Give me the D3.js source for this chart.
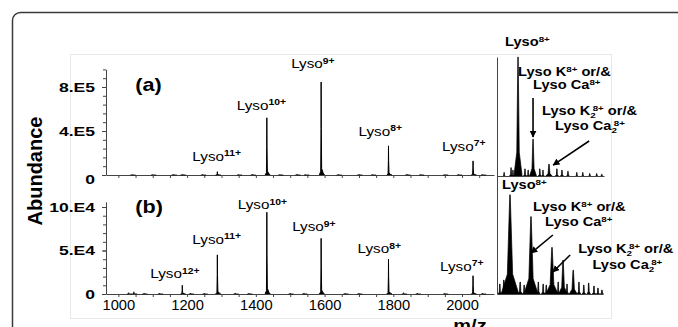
<!DOCTYPE html>
<html>
<head>
<meta charset="utf-8">
<script src="https://cdn.jsdelivr.net/npm/d3@7"></script>
<style>
  body { margin: 0; background: #fff; }
  svg { display: block; }
  text { font-family: "Liberation Sans", Arial, sans-serif; fill: #000; }
</style>
</head>
<body>
<div id="chart"></div>
<script>
// Set Dimensions
const W = 678;
const H = 327;

// Lysozyme charge states and the m/z of each peak
const charges = ["12+", "11+", "10+", "9+", "8+", "7+"];
const peakMz = [1186, 1288, 1432, 1590, 1786, 2032];
// peak heights, panel (a) and panel (b)
const peakA = [0.05e5, 0.3e5, 5.2e5, 8.45e5, 2.65e5, 1.28e5];
const peakB = [1.0e4, 4.5e4, 9.4e4, 6.4e4, 4.0e4, 2.1e4];

// small background peaks along the baseline
const noiseMzA = [1040, 1100, 1160, 1245, 1350, 1390, 1470, 1520, 1545, 1640, 1700, 1740, 1840, 1880, 1950, 1990, 2060];
const noiseA = [0.06e5, 0.05e5, 0.07e5, 0.06e5, 0.05e5, 0.08e5, 0.06e5, 0.09e5, 0.05e5, 0.06e5, 0.07e5, 0.05e5, 0.08e5, 0.06e5, 0.05e5, 0.06e5, 0.05e5];
const noiseMzB = [1030, 1045, 1075, 1120, 1210, 1250, 1340, 1380, 1500, 1540, 1660, 1700, 1830, 1870, 1950, 2060];
const noiseB = [0.15e4, 0.25e4, 0.12e4, 0.1e4, 0.12e4, 0.1e4, 0.12e4, 0.1e4, 0.1e4, 0.12e4, 0.1e4, 0.1e4, 0.15e4, 0.1e4, 0.1e4, 0.1e4];

// axis ticks
const xTicks = [1000, 1200, 1400, 1600, 1800, 2000];
const yTicksA = [0, 4e5, 8e5];
const yTickLabelsA = ["0", "4.E5", "8.E5"];
const yTicksB = [0, 5e4, 10e4];
const yTickLabelsB = ["0", "5.E4", "10.E4"];

// zoom on the 8+ ion (relative height %, half base width in m/z)
const insetMzA = [1784.6, 1786.8, 1787.4, 1789.0, 1791.2, 1792.2, 1793.75, 1795.9, 1796.9, 1798.8, 1801.3, 1802.9, 1804.8, 1807.6, 1809.5, 1811.7, 1813.9, 1815.5];
const insetHA  = [3, 7, 5, 100, 6, 5, 31, 6, 5, 10, 6, 5, 4, 3, 3, 2, 2, 1.5];
const insetWA  = [0.4, 0.5, 0.4, 1.3, 0.5, 0.4, 1.1, 0.5, 0.4, 1.0, 0.5, 0.5, 0.5, 0.4, 0.4, 0.4, 0.4, 0.4];

const insetMzB = [1786.7, 1787.6, 1789.0, 1791.3, 1792.2, 1793.75, 1795.4, 1796.5, 1797.2, 1798.5, 1799.9, 1801.0, 1801.9, 1803.3, 1804.6, 1805.7, 1806.8, 1808.0, 1808.9, 1809.8];
const insetHB  = [10, 14, 100, 12, 9, 78, 12, 10, 9, 47, 12, 34, 10, 24, 12, 9, 11, 8, 6, 4];
const insetWB  = [0.4, 0.5, 2.0, 0.5, 0.4, 1.6, 0.4, 0.4, 0.4, 1.4, 0.4, 1.0, 0.4, 0.9, 0.4, 0.4, 0.4, 0.4, 0.4, 0.4];

// arrows in the insets: [tail m/z, tail %, tip m/z, tip %]
const arrowsA = [[1793.75, 65.5, 1793.75, 32.8], [1811.5, 29.4, 1800.1, 9.2]];
const arrowsB = [[1798.7, 59.5, 1793.75, 41.3], [1802.6, 39.3, 1798.7, 22.2]];

const svg = d3.select("#chart")
  .append("svg")
  .attr("width", W)
  .attr("height", H);

svg.append("defs").append("marker")
  .attr("id", "head")
  .attr("viewBox", "0 0 10 10")
  .attr("refX", 9).attr("refY", 5)
  .attr("markerWidth", 7).attr("markerHeight", 7)
  .attr("markerUnits", "userSpaceOnUse")
  .attr("orient", "auto")
  .append("path").attr("d", "M0,0L10,5L0,10z").attr("fill", "#000");

// frame round the figure
svg.append("rect")
  .attr("x", 12.5).attr("y", 12.5)
  .attr("width", 720).attr("height", 400)
  .attr("rx", 8)
  .attr("fill", "none")
  .attr("stroke", "#3a3a3a")
  .attr("stroke-width", 1.5);

svg.append("rect")
  .attr("x", 70.5).attr("y", 54.5)
  .attr("width", 541).attr("height", 264)
  .attr("fill", "none")
  .attr("stroke", "#e8e8e8");

// scales
const x = d3.scaleLinear().domain([964, 2093]).range([106, 494]);
const yA = d3.scaleLinear().domain([0, 9.6e5]).range([175, 69.4]);
const yB = d3.scaleLinear().domain([0, 10.6e4]).range([294, 201.8]);

const xIa = d3.scaleLinear().domain([1782.35, 1816.2]).range([497, 604]);
const yIa = d3.scaleLinear().domain([0, 100]).range([176, 57]);
const xIb = d3.scaleLinear().domain([1786.06, 1810.04]).range([497, 603]);
const yIb = d3.scaleLinear().domain([0, 119]).range([294, 176]);

const SX = 1.22; // labels in the source are drawn wide

function label(parent, px, py, parts, o) {
  const t = parent.append("text")
    .attr("transform", `translate(${px},${py}) scale(${o.sx || SX},1)`)
    .attr("font-size", o.size)
    .attr("font-weight", o.weight || "normal")
    .attr("text-anchor", o.anchor || "start");
  parts.forEach(p => {
    t.append("tspan")
      .attr("dx", p.dx || 0)
      .attr("dy", p.dy || 0)
      .attr("font-size", p.s || null)
      .attr("font-weight", p.w || null)
      .text(p.t);
  });
  return t;
}

// one peak as a thin spike with a small tail
function peakShape(m, h) {
  return [[m - 5, 0], [m - 1.2, h * 0.04], [m - 0.3, h * 0.5], [m, h],
          [m + 0.4, h * 0.5], [m + 1.5, h * 0.07], [m + 6, h * 0.02], [m + 10, 0]];
}
function insetShape(m, h, w) {
  return [[m - w, 0], [m - w * 0.3, h * 0.2], [m - 0.05, h], [m + 0.05, h],
          [m + w * 0.3, h * 0.2], [m + w, 0]];
}

function styleAxis(g) {
  g.selectAll("path, line").attr("stroke", "#444");
}

function panel(yScale, base, heights, noiseMz, noise, yTicks, yLabels, minorStep, top) {
  const g = svg.append("g");

  // minor y ticks
  g.append("g")
    .attr("transform", "translate(106,0)")
    .call(d3.axisLeft(yScale).tickValues(d3.range(0, top, minorStep)).tickSize(3).tickSizeOuter(0).tickFormat(""))
    .call(styleAxis);

  // labelled y ticks
  const ya = g.append("g")
    .attr("transform", "translate(106,0)")
    .call(d3.axisLeft(yScale).tickValues(yTicks).tickSize(4).tickFormat((d, i) => yLabels[i]))
    .call(styleAxis);
  ya.select(".domain").remove();
  ya.selectAll("text")
    .attr("x", -11 / 1.35)
    .attr("transform", "scale(1.35,1)")
    .attr("font-size", 13)
    .attr("font-weight", "bold")
    .style("font-family", "'Liberation Sans', Arial, sans-serif");

  // x axis ticks
  g.append("g")
    .attr("transform", `translate(0,${base})`)
    .call(d3.axisBottom(x).tickValues(d3.range(1000, 2051, 50)).tickSize(3).tickSizeOuter(0).tickFormat(""))
    .call(styleAxis);

  const line = d3.line().x(d => x(d[0])).y(d => yScale(d[1]));

  const noisePeaks = noiseMz.map((m, i) => [m, noise[i]]);
  g.selectAll(".noise")
    .data(noisePeaks)
    .enter().append("path")
    .attr("d", d => line(peakShape(d[0], d[1])))
    .attr("fill", "#000").attr("stroke", "#000").attr("stroke-width", 0.8);

  const peaks = peakMz.map((m, i) => [m, heights[i]]);
  g.selectAll(".peak")
    .data(peaks)
    .enter().append("path")
    .attr("d", d => line(peakShape(d[0], d[1])))
    .attr("fill", "#000").attr("stroke", "#000").attr("stroke-width", 1);

  return g;
}

const gA = panel(yA, 175, peakA, noiseMzA, noiseA, yTicksA, yTickLabelsA, 0.8e5, 9.61e5);
const gB = panel(yB, 294, peakB, noiseMzB, noiseB, yTicksB, yTickLabelsB, 1e4, 10.61e4);

// the "0" of the top panel sits a little low
gA.selectAll(".tick text").filter(d => d === 0).attr("y", 4);

// x tick labels under (b)
const xl = gB.append("g")
  .attr("transform", "translate(0,294)")
  .call(d3.axisBottom(x).tickValues(xTicks).tickSize(0).tickPadding(6).tickFormat(d3.format("d")));
xl.select(".domain").remove();
xl.selectAll("text")
  .attr("font-size", 14)
  .attr("transform", "scale(1.05,1)")
  .style("font-family", "'Liberation Sans', Arial, sans-serif");

// peak labels: offsets from each peak top (pixels)
const labelOffA = [null, [-25, -11], [-30, -8], [-30, -14], [-30, -10], [-31, -10]];
const labelOffB = [[-32, -7], [-25, -11], [-29, -3], [-29, -7], [-31, -6], [-33, -5]];

charges.forEach((c, i) => {
  if (labelOffA[i]) {
    label(gA, x(peakMz[i]) + labelOffA[i][0], yA(peakA[i]) + labelOffA[i][1],
      [{ t: "Lyso" }, { t: c, s: 8.5, dy: -4.5, w: "bold" }], { size: 12.5 });
  }
  label(gB, x(peakMz[i]) + labelOffB[i][0], yB(peakB[i]) + labelOffB[i][1],
    [{ t: "Lyso" }, { t: c, s: 8.5, dy: -4.5, w: "bold" }], { size: 12.5 });
});

// panel letters
label(svg, x(1000) + 17, yA(8e5) + 4, [{ t: "(a)" }], { size: 18, weight: "bold", sx: 1.2 });
label(svg, x(1000) + 17, yB(10e4) + 6, [{ t: "(b)" }], { size: 18, weight: "bold", sx: 1.2 });

// axis titles
svg.append("text")
  .attr("transform", "translate(42,171) rotate(-90)")
  .attr("text-anchor", "middle")
  .attr("font-size", 20)
  .attr("font-weight", "bold")
  .text("Abundance");

label(svg, 470, 331, [{ t: "m/z" }], { size: 16, weight: "bold", anchor: "middle", sx: 1.25 });

// insets: zoom on the 8+ ion
function inset(xs, ys, mz, hs, ws, arrows, base) {
  const g = svg.append("g");
  const area = d3.line().x(d => xs(d[0])).y(d => ys(d[1]));
  const spikes = mz.map((m, i) => [m, hs[i], ws[i]]);
  g.selectAll(".spike")
    .data(spikes)
    .enter().append("path")
    .attr("d", d => area(insetShape(d[0], d[1], d[2])))
    .attr("fill", "#000").attr("stroke", "#000").attr("stroke-width", 0.7);

  g.append("g")
    .attr("transform", `translate(0,${base})`)
    .call(d3.axisBottom(xs).ticks(0).tickSizeOuter(0))
    .call(styleAxis);

  g.selectAll(".arrow")
    .data(arrows)
    .enter().append("line")
    .attr("x1", d => xs(d[0])).attr("y1", d => ys(d[1]))
    .attr("x2", d => xs(d[2])).attr("y2", d => ys(d[3]))
    .attr("stroke", "#000").attr("stroke-width", 1.6)
    .attr("marker-end", "url(#head)");
  return g;
}

const iA = inset(xIa, yIa, insetMzA, insetHA, insetWA, arrowsA, 176);
const iB = inset(xIb, yIb, insetMzB, insetHB, insetWB, arrowsB, 294);

// shared vertical line on the left of the insets
svg.append("g")
  .attr("transform", "translate(497,0)")
  .call(d3.axisLeft(d3.scaleLinear().range([294, 57])).ticks(0).tickSizeOuter(0))
  .call(styleAxis);

// inset labels
const sup = c => ({ t: c, s: 8, dy: -4.5 });
const b12 = { size: 12, weight: "bold" };
// subscript 2 with the charge stacked over it
const sub2sup = [{ t: "2", s: 8, dy: 3 }, { t: "8+", s: 8, dx: -2.5, dy: -7.5 }];

label(iA, xIa(1789) - 13, 46, [{ t: "Lyso" }, sup("8+")], b12);
label(iA, xIa(1789), 76, [{ t: "Lyso K" }, sup("8+"), { t: " or/&", dy: 4.5 }], b12);
label(iA, xIa(1793.75), 89, [{ t: "Lyso Ca" }, sup("8+")], b12);
label(iA, xIa(1796.6), 115, [{ t: "Lyso K" }, ...sub2sup, { t: " or/&", dy: 4.5 }], b12);
label(iA, xIa(1800.7), 130, [{ t: "Lyso Ca" }, ...sub2sup], b12);

label(iB, xIb(1789) - 8, 189, [{ t: "Lyso" }, sup("8+")], b12);
label(iB, xIb(1793.75) + 2, 211, [{ t: "Lyso K" }, sup("8+"), { t: " or/&", dy: 4.5 }], b12);
label(iB, xIb(1793.75) + 14, 226, [{ t: "Lyso Ca" }, sup("8+")], b12);
label(iB, xIb(1804.0) + 2, 253, [{ t: "Lyso K" }, ...sub2sup, { t: " or/&", dy: 4.5 }], b12);
label(iB, xIb(1807.2) + 2, 269, [{ t: "Lyso Ca" }, ...sub2sup], b12);
</script>
</body>
</html>
